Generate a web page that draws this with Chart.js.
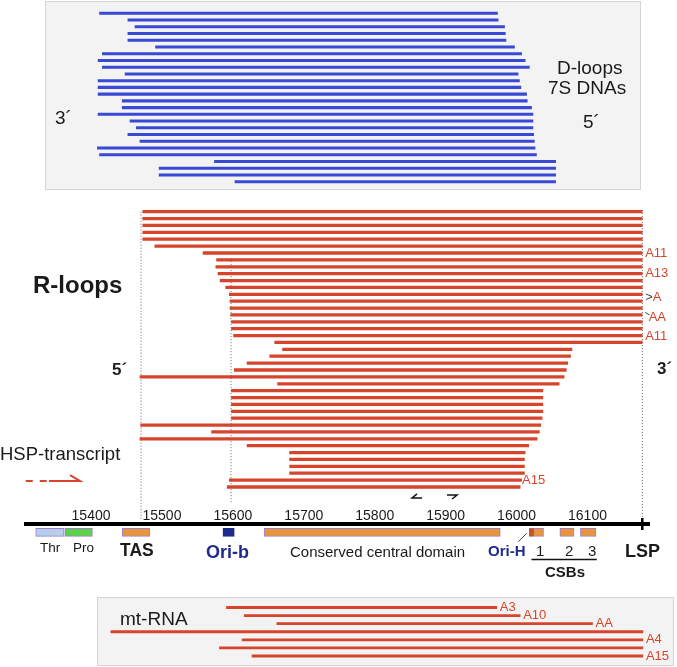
<!DOCTYPE html>
<html><head><meta charset="utf-8">
<script src="https://cdn.jsdelivr.net/npm/chart.js@4.4.1/dist/chart.umd.min.js"></script>
<style>
html,body{margin:0;padding:0;background:#fff;}
#wrap{position:relative;width:677px;height:667px;overflow:hidden;font-family:"Liberation Sans",Arial,Helvetica,sans-serif;color:#1a1a1a;}
.box{position:absolute;background:#f3f3f3;border:1px solid #d4d4d4;box-sizing:border-box;}
canvas{position:absolute;}
.t{position:absolute;white-space:nowrap;line-height:1;}
</style></head><body><div id="wrap">
<div class="box" style="left:45px;top:1px;width:596px;height:189px"></div>
<div class="box" style="left:97px;top:597px;width:577px;height:69px"></div>
<canvas id="cA" width="677" height="195" style="left:0;top:0"></canvas>
<canvas id="cB" width="677" height="330" style="left:0;top:200px"></canvas>
<canvas id="cC" width="677" height="77" style="left:0;top:590px"></canvas>
<canvas id="cD" width="626" height="85" style="left:24px;top:495px"></canvas>
</div>
<script>
// ---------------- data (genome positions, bp) ----------------
const tickValues = [15400,15500,15600,15700,15800,15900,16000,16100];

const dloopStart = [15412,15452,15462,15452,15452,15491,15416,15410,15416,15448,15410,15410,15410,15444,15444,15410,15455,15464,15452,15469,15409,15412,15574,15496,15496,15603];
const dloopEnd   = [15973,15974,15983,15984,15985,15997,16007,16012,16018,16002,16004,16006,16014,16015,16021,16023,16023,16023,16024,16025,16026,16028,16055,16055,16055,16055];

const rloopStart = [15473,15473,15473,15473,15473,15490,15558,15577,15576,15579,15582,15590,15595,15596,15596,15597,15598,15598,15601,15659,
                    15670,15652,15620,15602,15469,15663,15598,15598,15598,15598,15598,15470,15570,15469,15620,15680,15680,15680,15680,15595,15592];
const rloopEnd   = [16177,16177,16177,16177,16177,16177,16177,16177,16177,16177,16177,16177,16177,16177,16177,16177,16177,16177,16177,16177,
                    16078,16076,16072,16070,16067,16060,16037,16037,16037,16037,16036,16034,16032,16029,16017,16012,16011,16011,16011,16007,16005];
const rloopTags = [{row:6,text:'A11'},{row:9,text:'A13'},{row:12,text:'A',pre:'>',dy:3},{row:15,text:'AA',mark:true,dy:2},{row:18,text:'A11',dy:1},{row:39,text:'A15',gap:0.5}];

const mtStart = [15591,15616,15662,15428,15613,15581,15627];
const mtEnd   = [15972,16005,16107,16178,16178,16178,16178];
const mtTags  = [{row:0,text:'A3'},{row:1,text:'A10'},{row:2,text:'AA'},{row:4,text:'A4'},{row:6,text:'A15'}];

const featureNames = ['Thr','Pro','TAS','Ori-b','Conserved central domain','CSB1','CSB2','CSB3'];
const featureStart = [15322,15363,15444,15586,15644,16018,16061,16090];
const featureEnd   = [15362,15402,15483,15602,15977,16038,16081,16112];
const oriHRange    = [16018,16024];
const refPositions = [15470.5,15597.4,16177.2];   // dotted guide lines
const lspPosition  = 16177.2;
const csbSpan      = [16021,16113];

// ---------------- styling ----------------
const BLUE='#3849d6', RED='#d6452b', NAVY='#1c2b8c', ORANGE='#e8953c', PURPLE='#9d80d2';
const FONT='"Liberation Sans", Arial, Helvetica, sans-serif';
Chart.defaults.font.family = FONT;
Chart.defaults.animation = false;

const XMIN=15271.7, XMAX=16226.1;     // full-width panels
const AXIS_MIN=15305.5, AXIS_MAX=16188.1; // axis panel (starts at x=24)

function rowRange(firstPx, gapPx, top, height){ const min=-(firstPx-top)/gapPx; return {min, max:min+height/gapPx}; }
function segs(s,e){ return s.map((v,i)=>({x:[v,e[i]],y:i})); }
function vline(x,y0,y1,extra){ return Object.assign({type:'line',data:[{x:x,y:y0},{x:x,y:y1}],borderColor:'#666',borderWidth:1,borderDash:[1,2],pointRadius:0,fill:false},extra||{}); }
function poly(pts,extra){ return Object.assign({type:'line',data:pts,borderColor:RED,borderWidth:2,pointRadius:0,fill:false,tension:0},extra||{}); }

function baseOpts(xmin,xmax,yr,extraPlugins){
  return {responsive:false,animation:false,indexAxis:'y',layout:{padding:0},
    plugins:Object.assign({legend:{display:false},tooltip:{enabled:false}},extraPlugins||{}),
    scales:{x:{type:'linear',min:xmin,max:xmax,display:false,offset:false},
            y:{type:'linear',min:yr.min,max:yr.max,reverse:true,display:false,offset:false,grid:{offset:false}}}};
}

const endTags = {
  id:'endTags',
  afterDatasetsDraw(chart,args,o){
    const ctx=chart.ctx, xs=chart.scales.x, ys=chart.scales.y;
    ctx.save();
    ctx.font=o.size+'px '+FONT; ctx.textBaseline='middle'; ctx.textAlign='left';
    o.tags.forEach(t=>{
      let x=xs.getPixelForValue(o.ends[t.row])+(t.gap!==undefined?t.gap:o.gap);
      const y=ys.getPixelForValue(t.row)+(t.dy||0);
      if(t.pre){ctx.fillStyle='#444';ctx.fillText(t.pre,x,y);x+=ctx.measureText(t.pre).width;}
      if(t.mark){ctx.strokeStyle='#444';ctx.lineWidth=1;ctx.beginPath();ctx.moveTo(x,y-4.5);ctx.lineTo(x+4.5,y-2);ctx.stroke();x+=3.5;}
      ctx.fillStyle=o.color; ctx.fillText(t.text,x,y);
    });
    ctx.restore();
  }
};

// ---- D-loops ----
new Chart(document.getElementById('cA'),{type:'bar',
  data:{datasets:[{data:segs(dloopStart,dloopEnd),backgroundColor:BLUE,barThickness:2.4,borderWidth:0,grouped:false}]},
  options:baseOpts(XMIN,XMAX,rowRange(13.3,6.736,0,195))});

// ---- R-loops ----
const yrB=rowRange(211.7,6.8825,200,330);
new Chart(document.getElementById('cB'),{type:'bar',
  data:{datasets:[
    {data:segs(rloopStart,rloopEnd),backgroundColor:RED,barThickness:2.6,borderWidth:0,grouped:false,order:1},
    vline(refPositions[0],0.0,44.8,{order:2}),
    vline(refPositions[1],6.75,42.2,{order:2}),
    vline(refPositions[2],-0.25,44.9,{order:2}),
    poly([{x:15308,y:39.13},{x:15338,y:39.13}],{borderDash:[7,7]}),
    poly([{x:15340.8,y:39.13},{x:15384.5,y:39.13},{x:15370.4,y:38.26}]),
    poly([{x:15859.6,y:41.0},{x:15852.6,y:41.6},{x:15866.7,y:41.6}],{borderColor:'#111',borderWidth:1.5}),
    poly([{x:15901.9,y:41.16},{x:15916,y:41.16},{x:15909,y:41.74}],{borderColor:'#111',borderWidth:1.5})
  ]},
  options:baseOpts(XMIN,XMAX,yrB,{endTags:{tags:rloopTags,ends:rloopEnd,size:13,color:RED,gap:3}}),
  plugins:[endTags]});

// ---- mt-RNA ----
new Chart(document.getElementById('cC'),{type:'bar',
  data:{datasets:[{data:segs(mtStart,mtEnd),backgroundColor:RED,barThickness:2.2,borderWidth:0,grouped:false}]},
  options:baseOpts(XMIN,XMAX,rowRange(607.5,8.08,590,77),{endTags:{tags:mtTags,ends:mtEnd,size:13,color:RED,gap:3}}),
  plugins:[endTags]});

// ---- axis + features ----
const FEATURE_Y=0.95;
const featureFill=['#b7cde9','#5fd04a',ORANGE,NAVY,ORANGE,ORANGE,ORANGE,ORANGE];
const featureBorder=[PURPLE,PURPLE,PURPLE,NAVY,PURPLE,PURPLE,PURPLE,PURPLE];
new Chart(document.getElementById('cD'),{type:'bar',
  data:{datasets:[
    {data:featureStart.map((s,i)=>({x:[s,featureEnd[i]],y:FEATURE_Y})),backgroundColor:featureFill,borderColor:featureBorder,borderWidth:1,borderSkipped:false,barThickness:8,grouped:false,order:3},
    {data:[{x:oriHRange,y:FEATURE_Y}],backgroundColor:'#c4532b',borderWidth:0,barThickness:7,grouped:false,order:2},
    {type:'line',data:[{x:lspPosition,y:-0.58},{x:lspPosition,y:0.69}],borderColor:'#000',borderWidth:2.5,pointRadius:0,clip:false,order:1},
    {type:'line',data:[{x:csbSpan[0],y:3.82},{x:csbSpan[1],y:3.82}],borderColor:'#111',borderWidth:1.5,pointRadius:0,order:1},
    {type:'line',data:[{x:16002.4,y:1.93},{x:16014.3,y:1.04}],borderColor:'#444',borderWidth:1,pointRadius:0,order:1}
  ]},
  options:{responsive:false,animation:false,indexAxis:'y',layout:{padding:0},
    plugins:{legend:{display:false},tooltip:{enabled:false}},
    scales:{
      x:{type:'linear',position:'top',min:AXIS_MIN,max:AXIS_MAX,offset:false,
         grid:{display:false,drawTicks:false,offset:false},
         border:{display:true,color:'#000',width:4},
         ticks:{font:{size:14,lineHeight:1},color:'#1a1a1a',padding:0,includeBounds:false,autoSkip:false,maxRotation:0,
                callback:v=>String(Math.round(v))},
         afterBuildTicks:s=>{s.ticks=tickValues.map(v=>({value:v}));},
         afterFit:s=>{s.height=28.5;}},
      y:{type:'linear',min:0,max:6,reverse:true,display:false,offset:false,grid:{offset:false}}
    }}});

// ---------------- text ----------------
const wrap=document.getElementById('wrap');
function T(text,x,cy,size,o){o=o||{};const d=document.createElement('div');d.className='t';d.textContent=text;
  d.style.left=x+'px';d.style.top=(cy-0.49*size)+'px';d.style.fontSize=size+'px';
  if(o.bold)d.style.fontWeight='bold';if(o.color)d.style.color=o.color;wrap.appendChild(d);}
T('3´',55,117,19);
T('D-loops',557,67,19);
T('7S DNAs',548,87,19);
T('5´',583,121,19);
T('R-loops',33,285,24,{bold:true});
T('5´',112,369,17,{bold:true});
T('3´',657,368.5,17,{bold:true});
T('HSP-transcript',0,454,18.5);
T('Thr',40,548,13.5);
T('Pro',73,548,13.5);
T('TAS',120,551,17.5,{bold:true});
T('Ori-b',206,552,18,{bold:true,color:NAVY});
T('Conserved central domain',290,551,15);
T('Ori-H',488,550,15,{bold:true,color:NAVY});
T('1',536,550,15);T('2',565,550,15);T('3',588,550,15);
T('CSBs',545,571,15,{bold:true});
T('LSP',625,550.5,18,{bold:true});
T('mt-RNA',120,618,19);
</script></body></html>
